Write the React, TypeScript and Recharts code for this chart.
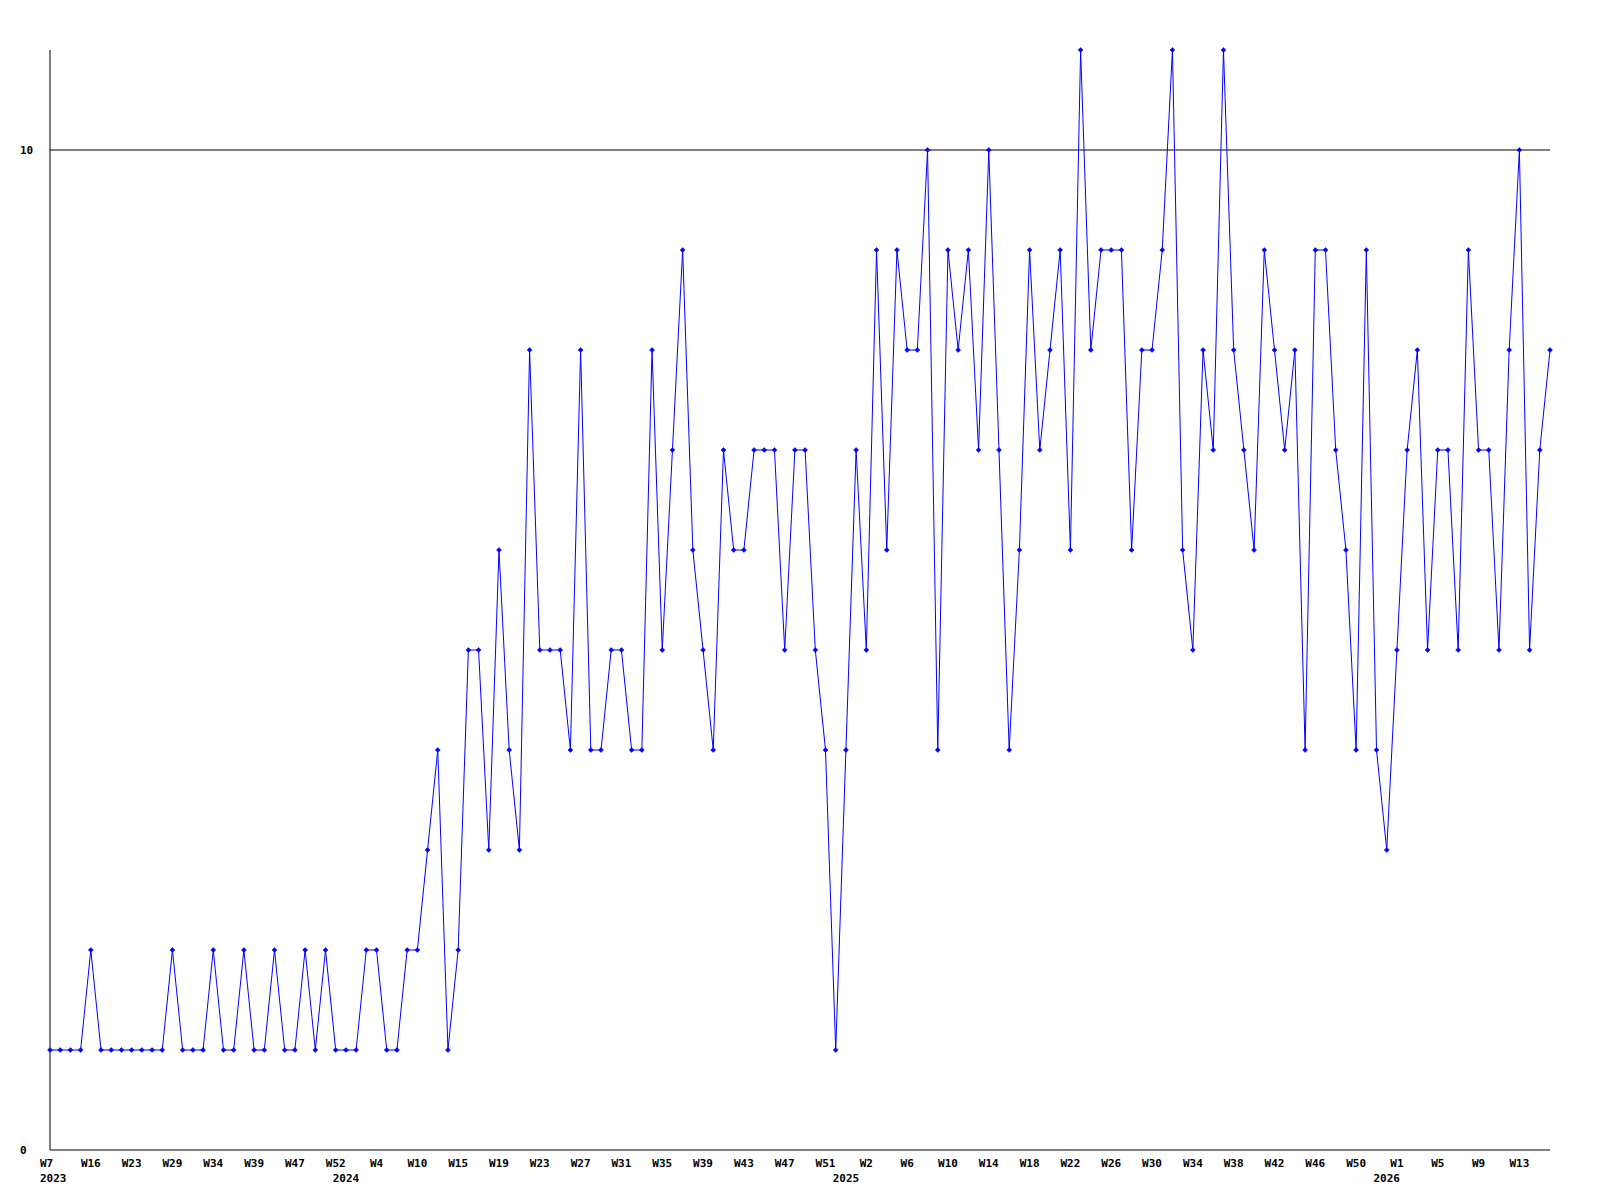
import React from 'react';
import { LineChart, Line, XAxis, YAxis, ReferenceLine } from 'recharts';

// weekly counts, one per point
const counts = [
  1, 1, 1, 1, 2, 1, 1, 1, 1, 1, 1, 1, 2, 1, 1, 1, 2, 1, 1, 2,
  1, 1, 2, 1, 1, 2, 1, 2, 1, 1, 1, 2, 2, 1, 1, 2, 2, 3, 4, 1,
  2, 5, 5, 3, 6, 4, 3, 8, 5, 5, 5, 4, 8, 4, 4, 5, 5, 4, 4, 8,
  5, 7, 9, 6, 5, 4, 7, 6, 6, 7, 7, 7, 5, 7, 7, 5, 4, 1, 4, 7,
  5, 9, 6, 9, 8, 8, 10, 4, 9, 8, 9, 7, 10, 7, 4, 6, 9, 7, 8, 9,
  6, 11, 8, 9, 9, 9, 6, 8, 8, 9, 11, 6, 5, 8, 7, 11, 8, 7, 6, 9,
  8, 7, 8, 4, 9, 9, 7, 6, 4, 9, 4, 3, 5, 7, 8, 5, 7, 7, 5, 9,
  7, 7, 5, 8, 10, 5, 7, 8,
];

// a week label sits under every 4th point
const weekTicks = [
  'W7', 'W16', 'W23', 'W29', 'W34', 'W39', 'W47', 'W52', 'W4', 'W10',
  'W15', 'W19', 'W23', 'W27', 'W31', 'W35', 'W39', 'W43', 'W47', 'W51',
  'W2', 'W6', 'W10', 'W14', 'W18', 'W22', 'W26', 'W30', 'W34', 'W38',
  'W42', 'W46', 'W50', 'W1', 'W5', 'W9', 'W13',
];

// first point of each year
const yearIndex = [0, 29, 78, 131];
const yearText = ['2023', '2024', '2025', '2026'];

const yTicks = [0, 10];

const data = counts.map((value, idx) => ({ idx, value }));

const W = 1600;
const H = 1200;
const margin = { top: 50, right: 50, left: 0, bottom: 20 };
const axisY = H - margin.bottom - 30;

const font = {
  fontFamily: '"DejaVu Sans Mono", monospace',
  fontSize: 11,
  fontWeight: 'bold' as const,
  fill: '#000',
};

const XTick = (props: any) => {
  const { x, payload } = props;
  const i = Number(payload.value);
  const week = i % 4 === 0 ? weekTicks[i / 4] : null;
  const yi = yearIndex.indexOf(i);
  const first = i === 0;
  return (
    <g>
      {week && (
        <text x={first ? x - 10 : x} y={axisY + 17} textAnchor={first ? 'start' : 'middle'} {...font}>
          {week}
        </text>
      )}
      {yi >= 0 && (
        <text x={first ? x - 10 : x} y={axisY + 32} textAnchor={first ? 'start' : 'middle'} {...font}>
          {yearText[yi]}
        </text>
      )}
    </g>
  );
};

const YTick = (props: any) => {
  const { y, payload } = props;
  return (
    <text x={20} y={y + 4} textAnchor="start" {...font}>
      {payload.value}
    </text>
  );
};

const renderDot = (p: any) => {
  const { cx, cy, index } = p;
  const d = `M${cx - 2.5},${cy} L${cx},${cy - 2.5} L${cx + 2.5},${cy} L${cx},${cy + 2.5} Z`;
  return <path key={`dot-${index}`} d={d} fill="#0000ff" stroke="#0000ff" strokeWidth={0.5} />;
};

export default function App() {
  return (
    <div style={{ position: 'absolute', left: 0, top: 0, width: W, height: H, background: '#fff' }}>
      <LineChart width={W} height={H} data={data} margin={margin}>
        <XAxis
          dataKey="idx"
          type="category"
          interval={0}
          height={30}
          tick={<XTick />}
          tickLine={false}
          axisLine={{ stroke: '#000' }}
        />
        <YAxis
          domain={[0, 11]}
          ticks={yTicks}
          width={50}
          tick={<YTick />}
          tickLine={false}
          axisLine={{ stroke: '#000' }}
        />
        <ReferenceLine y={10} stroke="#000" strokeWidth={1} />
        <Line
          type="linear"
          dataKey="value"
          stroke="#0000ff"
          strokeWidth={1}
          dot={renderDot}
          activeDot={false}
          isAnimationActive={false}
        />
      </LineChart>
    </div>
  );
}
